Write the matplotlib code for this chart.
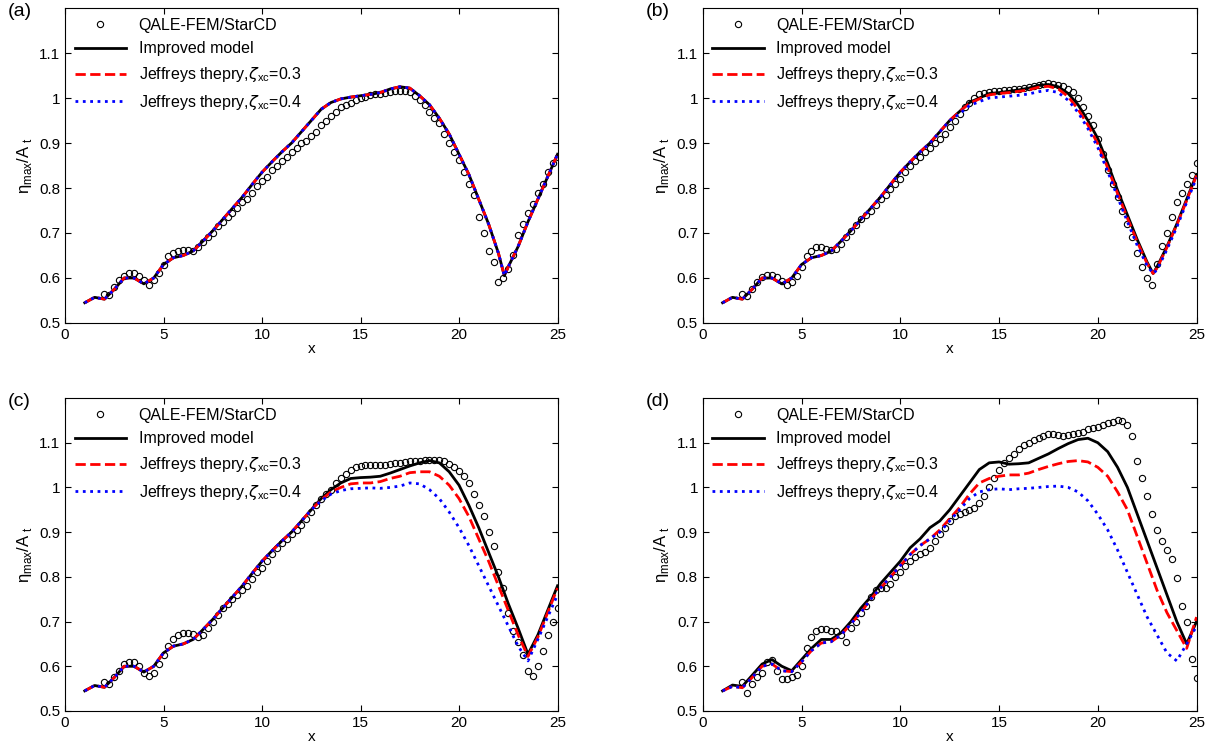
import numpy as np
import matplotlib
matplotlib.use("Agg")
import matplotlib.pyplot as plt

plt.rcParams['font.family'] = ['Liberation Sans', 'DejaVu Sans']
plt.rcParams['mathtext.fontset'] = 'custom'
plt.rcParams['mathtext.rm'] = 'Liberation Sans'
plt.rcParams['mathtext.it'] = 'DejaVu Sans:italic'

# ---------- circles (QALE-FEM/StarCD), x = 2.0 .. 25.0 step 0.25 ----------
circ_x = np.arange(2.0, 25.001, 0.25)
circ_a = [.565,.562,.58,.595, .605,.61,.61,.605, .595,.585,.595,.61, .628,.648,.655,.66,
          .663,.663,.66,.668, .68,.69,.70,.715, .725,.735,.745,.755, .768,.775,.79,.805,
          .815,.825,.84,.85, .86,.87,.88,.89, .90,.905,.915,.925, .94,.95,.96,.97,
          .98,.985,.99,.995, 1.0,1.003,1.006,1.008, 1.01,1.012,1.014,1.015, 1.015,1.015,1.013,1.005,
          .995,.985,.97,.955, .944,.92,.90,.88, .862,.835,.81,.785, .735,.70,.66,.635,
          .59,.60,.62,.65, .695,.72,.745,.765, .79,.81,.835,.855, .87]
circ_b = [.565,.56,.575,.59, .603,.607,.607,.603, .593,.585,.59,.605, .625,.648,.66,.668,
          .668,.665,.662,.665, .675,.69,.705,.718, .73,.74,.75,.762, .775,.785,.798,.81,
          .82,.835,.85,.86, .87,.88,.89,.90, .91,.92,.935,.95, .965,.98,.99,1.0,
          1.008,1.012,1.014,1.015, 1.016,1.017,1.018,1.02, 1.021,1.022,1.024,1.026, 1.03,1.032,1.033,1.032,
          1.03,1.026,1.02,1.013, 1.0,.98,.96,.94, .91,.875,.84,.81, .78,.75,.72,.69,
          .655,.625,.60,.585, .63,.67,.70,.735, .77,.79,.81,.83, .855]
circ_c = [.565,.56,.575,.59, .605,.61,.61,.60, .585,.578,.585,.605, .625,.645,.66,.67,
          .675,.675,.672,.665, .67,.685,.70,.715, .73,.74,.75,.76, .77,.78,.795,.81,
          .82,.835,.85,.865, .875,.885,.895,.905, .915,.93,.945,.96, .975,.985,.995,1.01,
          1.02,1.03,1.04,1.045, 1.048,1.05,1.05,1.05, 1.05,1.05,1.052,1.054, 1.055,1.057,1.058,1.06,
          1.06,1.062,1.062,1.062, 1.062,1.058,1.052,1.045, 1.037,1.025,1.01,.985, .96,.935,.90,.87,
          .81,.775,.72,.68, .655,.625,.59,.578, .60,.635,.67,.70, .73]
circ_d = [.565,.54,.56,.575, .585,.61,.615,.59, .572,.572,.575,.58, .60,.64,.665,.68,
          .683,.683,.68,.678, .67,.655,.685,.70, .72,.735,.755,.77, .775,.775,.785,.80,
          .81,.825,.835,.845, .85,.855,.865,.88, .895,.91,.925,.935, .94,.945,.95,.955,
          .965,.98,1.0,1.02, 1.04,1.055,1.065,1.075, 1.085,1.095,1.10,1.105, 1.11,1.115,1.12,1.12,
          1.118,1.115,1.117,1.12, 1.122,1.125,1.13,1.132, 1.135,1.14,1.145,1.147, 1.15,1.148,1.14,1.115,
          1.058,1.02,.98,.94, .905,.88,.86,.84, .797,.735,.70,.616, .574]

# ---------- model lines ----------
base = [.545,.557,.553,.575,.600,.600,.587,.600,.630,.645,.650,.660,.682,.705,.730,.755,
        .780,.808,.835,.858,.88,.90,.925,.95]

x_a = np.r_[np.arange(1, 22.01, .5), 22.3, np.arange(22.5, 25.01, .5)]
imp_a = base + [.975,.99,.998,1.002,1.005,1.008,1.012,1.02,1.025,1.022,1.005,.985,.955,.92,.875,.83,.775,.72,.655,
                .605, .625,.67,.725,.775,.825,.875]
j03_a = list(imp_a)
j04_a = list(imp_a)

x_b = np.r_[np.arange(1, 22.51, .5), 22.8, np.arange(23, 25.01, .5)]
imp_b = base + [.97,.99,1.0,1.01,1.012,1.015,1.018,1.022,1.028,1.03,1.025,1.01,.985,.95,.91,.855,.795,.74,.685,.635,
                .61, .625,.67,.72,.775,.83]
j03_b = base + [.97,.988,.998,1.007,1.01,1.012,1.015,1.018,1.024,1.026,1.02,1.003,.975,.94,.898,.845,.788,.733,.68,.632,
                .61, .622,.668,.718,.772,.828]
j04_b = base + [.965,.983,.992,1.0,1.002,1.004,1.006,1.009,1.014,1.017,1.012,.995,.968,.932,.89,.837,.78,.725,.672,.627,
                .61, .618,.663,.713,.768,.823]

x_c = np.r_[np.arange(1, 23.51, .5), np.arange(24, 25.01, .5)]
imp_c = base + [.975,.995,1.01,1.02,1.022,1.023,1.025,1.032,1.04,1.048,1.055,1.06,1.055,1.035,1.005,.96,.91,.855,.80,.74,.685,.627,
                .67,.725,.78]
j03_c = base + [.972,.99,1.0,1.008,1.01,1.01,1.013,1.02,1.025,1.033,1.035,1.035,1.025,1.005,.975,.935,.885,.835,.78,.725,.67,.622,
                .665,.72,.775]
j04_c = base + [.97,.985,.993,.997,.998,.999,.998,1.0,1.003,1.01,1.008,.995,.975,.945,.91,.87,.825,.78,.735,.69,.645,.612,
                .66,.71,.76]

x_d = np.arange(1, 25.01, .5)
early_imp_d = [.545,.558,.555,.58,.605,.615,.60,.59,.615,.64,.66,.66,.675,.70,.73,.755,.785,.81]
early_j_d = [.545,.555,.552,.575,.60,.605,.59,.588,.61,.635,.652,.655,.67,.695,.72,.75,.775,.80]
imp_d = early_imp_d + [.835,.865,.885,.91,.925,.95,.98,1.01,1.04,1.055,1.057,1.052,1.053,1.055,1.065,1.075,1.087,
                       1.098,1.107,1.11,1.10,1.08,1.045,1.0,.94,.88,.82,.76,.70,.65,.70]
j03_d = early_j_d + [.825,.85,.87,.885,.905,.93,.955,.985,1.01,1.02,1.025,1.028,1.028,1.032,1.04,1.047,1.053,
                     1.058,1.06,1.057,1.045,1.025,.99,.95,.89,.83,.77,.72,.68,.64,.71]
j04_d = early_j_d + [.825,.85,.87,.885,.90,.925,.95,.975,.99,.995,.997,.995,.997,.998,1.0,1.002,1.003,
                     1.0,.99,.97,.94,.905,.86,.81,.76,.71,.67,.63,.612,.65,.69]

panels = [
    ("(a)", circ_a, x_a, imp_a, j03_a, j04_a),
    ("(b)", circ_b, x_b, imp_b, j03_b, j04_b),
    ("(c)", circ_c, x_c, imp_c, j03_c, j04_c),
    ("(d)", circ_d, x_d, imp_d, j03_d, j04_d),
]
xticks = [0, 5, 10, 15, 20, 25]
yticks = [0.5, 0.6, 0.7, 0.8, 0.9, 1.0, 1.1]
ytick_labels = ['0.5', '0.6', '0.7', '0.8', '0.9', '1', '1.1']

fig = plt.figure(figsize=(12.16, 7.42), dpi=100)
rects = [(0.0535, 0.5647, 0.405, 0.4245), (0.578, 0.5647, 0.406, 0.4245),
         (0.0535, 0.0418, 0.405, 0.4218), (0.578, 0.0418, 0.406, 0.4218)]
labx = [8, 646, 8, 646]
for i, (lab, cy, lx, yi, y3, y4) in enumerate(panels):
    ax = fig.add_axes(rects[i])
    ax.plot(circ_x, cy, 'o', mfc='none', mec='black', ms=4.5, mew=0.8, label='QALE-FEM/StarCD')
    ax.plot(lx, yi, '-', color='black', lw=2, label='Improved model')
    ax.plot(lx, y3, '--', color='red', lw=2, label=r'Jeffreys thepry,$\zeta_{\rm xc}$=0.3')
    ax.plot(lx, y4, ':', color='blue', lw=2, label=r'Jeffreys thepry,$\zeta_{\rm xc}$=0.4')
    ax.set_xlim(0, 25)
    ax.set_ylim(0.5, 1.2)
    ax.set_xticks(xticks)
    ax.set_yticks(yticks)
    ax.set_yticklabels(ytick_labels)
    ax.tick_params(direction='in', top=True, right=True, labelsize=11, length=4)
    ax.set_xlabel('x', fontsize=11, labelpad=0)
    ax.set_ylabel(r'$\mathrm{\eta}_{\rm max}/\mathrm{A}_{\ \rm t}$', fontsize=12, labelpad=4)
    ax.legend(loc='upper left', frameon=False, fontsize=11.5, handlelength=3.2,
              borderaxespad=0.2, labelspacing=0.55, bbox_to_anchor=(0.0, 1.0))
    fig.text(labx[i] / 1216, rects[i][1] + rects[i][3] - 0.005,
             lab, fontsize=14, va='center', ha='left')

fig.savefig('out.png', dpi=100)
